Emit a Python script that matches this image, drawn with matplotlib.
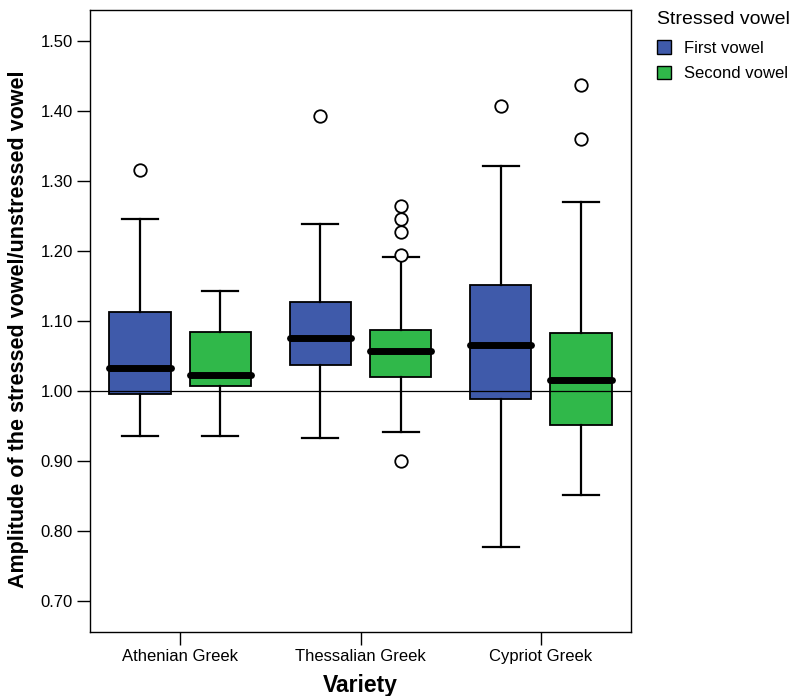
import matplotlib
matplotlib.use("Agg")
import matplotlib.pyplot as plt
from matplotlib.patches import Patch
import numpy as np

plt.rcParams['font.family'] = ['Liberation Sans', 'DejaVu Sans']

categories = ["Athenian Greek", "Thessalian Greek", "Cypriot Greek"]
series = ["First vowel", "Second vowel"]
colors = ["#3F5AAA", "#30B84A"]

# per series, per category: whislo, q1, median, q3, whishi
first_lo = [0.936, 0.933, 0.777]
first_q1 = [0.996, 1.037, 0.989]
first_med = [1.033, 1.076, 1.066]
first_q3 = [1.113, 1.127, 1.151]
first_hi = [1.246, 1.239, 1.321]
first_fliers = [[1.316], [1.393], [1.407]]

second_lo = [0.936, 0.941, 0.851]
second_q1 = [1.007, 1.020, 0.951]
second_med = [1.023, 1.057, 1.016]
second_q3 = [1.084, 1.087, 1.083]
second_hi = [1.143, 1.191, 1.270]
second_fliers = [[], [1.264, 1.246, 1.227, 1.194, 0.900], [1.437, 1.360]]

yticks = [0.70, 0.80, 0.90, 1.00, 1.10, 1.20, 1.30, 1.40, 1.50]

fig = plt.figure(figsize=(8.11, 6.96), dpi=100)
ax = fig.add_axes([90/811, 1 - 632/696, 541/811, 622/696])

data = [
    (first_lo, first_q1, first_med, first_q3, first_hi, first_fliers),
    (second_lo, second_q1, second_med, second_q3, second_hi, second_fliers),
]
offsets = [-0.222, 0.222]
for si, (lo, q1, med, q3, hi, fl) in enumerate(data):
    stats = []
    for ci in range(len(categories)):
        stats.append(dict(whislo=lo[ci], q1=q1[ci], med=med[ci], q3=q3[ci],
                          whishi=hi[ci], fliers=fl[ci]))
    pos = np.arange(len(categories)) + offsets[si]
    ax.bxp(stats, positions=pos, widths=0.34, patch_artist=True,
           showfliers=True,
           boxprops=dict(facecolor=colors[si], edgecolor='black', linewidth=1.3),
           medianprops=dict(color='black', linewidth=5, solid_capstyle='round'),
           whiskerprops=dict(color='black', linewidth=1.6),
           capprops=dict(color='black', linewidth=1.6),
           capwidths=0.2,
           flierprops=dict(marker='o', markerfacecolor='white', markeredgecolor='black',
                           markersize=9, markeredgewidth=1.3, linestyle='none'),
           zorder=3)

ax.axhline(1.0, color='black', linewidth=0.9, zorder=4)

ax.set_xlim(-0.5, 2.5)
ax.set_ylim(0.656, 1.544)
ax.set_xticks(range(len(categories)))
ax.set_xticklabels(categories, fontsize=12)
ax.set_yticks(yticks)
ax.set_yticklabels([f"{v:.2f}" for v in yticks], fontsize=12)
ax.tick_params(axis='both', direction='out', length=9.5, width=1, color='black', pad=3)
for s in ax.spines.values():
    s.set_linewidth(1.0)

ax.set_xlabel("Variety", fontsize=16.5, fontweight='bold')
ax.xaxis.set_label_coords(0.5, -0.067)
ax.set_ylabel("Amplitude of the stressed vowel/unstressed vowel", fontsize=15.5,
              fontweight='bold')
ax.yaxis.set_label_coords(-0.112, 0.487)

handles = [Patch(facecolor=c, edgecolor='black', linewidth=1.0) for c in colors]
leg = fig.legend(handles, series, loc='upper left', bbox_to_anchor=(657/811, 1 - 11/696),
                 frameon=False, title="Stressed vowel", fontsize=12,
                 title_fontsize=14, handlelength=0.85, handleheight=0.85,
                 handletextpad=0.8, labelspacing=0.6, borderpad=0, borderaxespad=0)
leg._legend_box.align = "left"
leg._legend_box.sep = 9

fig.savefig("out.png", dpi=100)
